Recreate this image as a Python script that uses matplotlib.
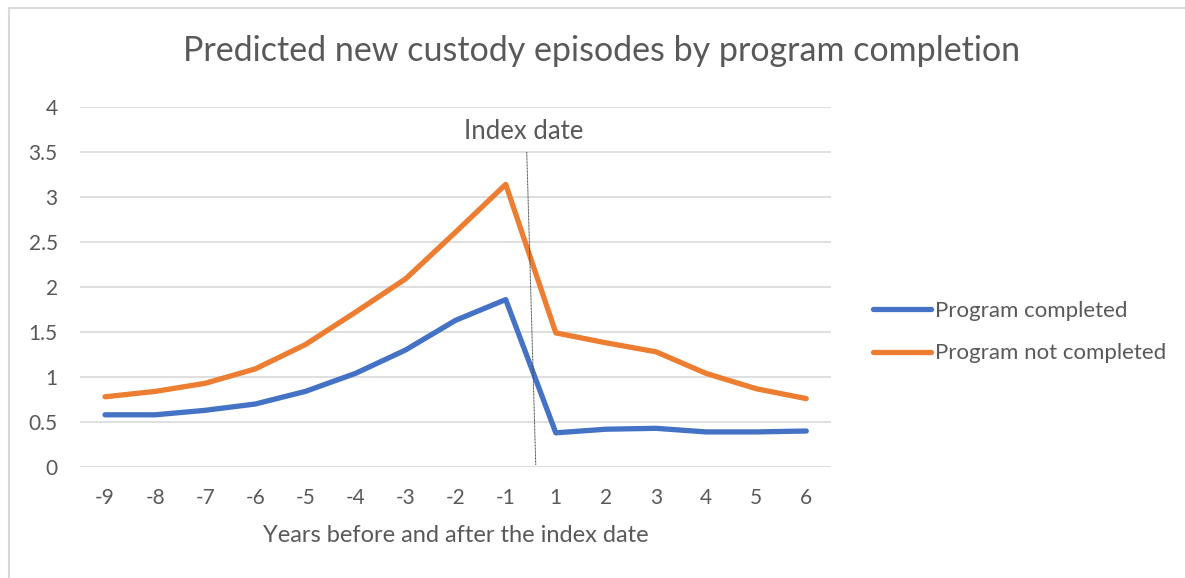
import matplotlib.pyplot as plt
from matplotlib.lines import Line2D

years = ["-9", "-8", "-7", "-6", "-5", "-4", "-3", "-2", "-1", "1", "2", "3", "4", "5", "6"]
completed = [0.58, 0.58, 0.63, 0.70, 0.84, 1.04, 1.30, 1.63, 1.86, 0.38, 0.42, 0.43, 0.39, 0.39, 0.40]
not_completed = [0.78, 0.84, 0.93, 1.09, 1.36, 1.72, 2.09, 2.61, 3.14, 1.49, 1.38, 1.28, 1.04, 0.87, 0.76]

plt.rcParams['font.family'] = ['Lato', 'DejaVu Sans']
grey = '#595959'

fig = plt.figure(figsize=(11.85, 5.78), dpi=100)
ax = fig.add_axes([0.0675, 0.192, 0.634, 0.623])

x = list(range(len(years)))
ax.plot(x, completed, color='#4472C4', lw=3.8, label='Program completed', solid_joinstyle='round', solid_capstyle='round')
ax.plot(x, not_completed, color='#ED7D31', lw=3.8, label='Program not completed', solid_joinstyle='round', solid_capstyle='round')

# index date marker
ax.plot([8.42, 8.6], [3.5, 0.02], color='#404040', lw=0.7, ls=(0, (1, 0.5)))
ax.text(8.36, 3.73, 'Index date', ha='center', va='center', fontsize=18.5, color=grey)

ax.set_xlim(-0.5, 14.5)
ax.set_ylim(0, 4)
ax.set_yticks([0, 0.5, 1, 1.5, 2, 2.5, 3, 3.5, 4])
ax.set_yticklabels(['0', '0.5', '1', '1.5', '2', '2.5', '3', '3.5', '4'])
ax.set_xticks(x)
ax.set_xticklabels(years)
ax.grid(axis='y', color='#d9d9d9', lw=1.2)
ax.set_axisbelow(True)
for s in ax.spines.values():
    s.set_visible(False)
ax.tick_params(length=0, labelsize=15, colors=grey)
ax.tick_params(axis='y', pad=16)
ax.tick_params(axis='x', pad=15)
ax.set_xlabel('Years before and after the index date', fontsize=17, color=grey, labelpad=12)

fig.text(0.508, 0.912, 'Predicted new custody episodes by program completion',
         ha='center', va='center', fontsize=24.5, color=grey)

fig.legend(loc='center left', bbox_to_anchor=(0.72, 0.425), frameon=False,
           fontsize=16, labelcolor=grey, handlelength=2.6, handletextpad=0.2,
           labelspacing=1.0)

# chart border (top and left visible)
fig.add_artist(Line2D([0.0075, 0.0075], [0, 0.986], color='#d9d9d9', lw=1.5))
fig.add_artist(Line2D([0.0075, 1], [0.986, 0.986], color='#d9d9d9', lw=1.5))

fig.savefig('out.png', dpi=100)
